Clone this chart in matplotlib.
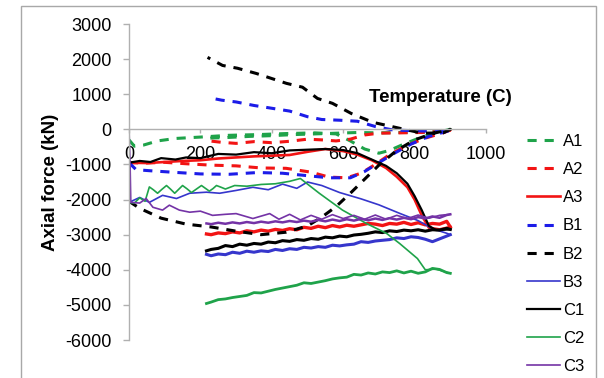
import matplotlib
matplotlib.use("Agg")
import matplotlib.pyplot as plt
from matplotlib.patches import Rectangle

plt.rcParams['font.family'] = ['Liberation Sans', 'DejaVu Sans']
plt.rcParams['axes.unicode_minus'] = False

# Axial force vs temperature: heating branch (0 -> 900 C) followed by cooling branch
A1_T = [0, 15, 40, 80, 130, 200, 280, 360, 440, 520, 580, 620, 660, 700, 730, 770, 820, 870, 900,
        870, 820, 760, 700, 640, 580, 520, 460, 400, 340, 280, 225]
A1_F = [-300, -480, -450, -330, -260, -220, -170, -150, -120, -100, -130, -330, -560, -680, -600, -420, -220, -70, 0,
        -40, -80, -90, -100, -90, -110, -130, -150, -180, -200, -230, -250]

A2_T = [0, 50, 100, 160, 230, 300, 370, 440, 510, 560, 610, 650, 690, 730, 780, 830, 880, 900,
        870, 820, 760, 700, 660, 620, 580, 540, 500, 450, 400, 350, 300, 260, 225]
A2_F = [-950, -960, -940, -980, -1020, -1040, -1100, -1110, -1220, -1360, -1380, -1250, -1000, -720, -450, -250, -100, -20,
        -60, -90, -100, -110, -160, -280, -330, -300, -280, -340, -380, -350, -400, -370, -330]

A3_T = [0, 50, 100, 150, 200, 250, 300, 350, 400, 450, 500, 550, 600, 640, 680, 720, 750, 780, 800, 820, 840, 870, 900,
        890, 870, 850, 830, 810, 790, 770, 750, 730, 710, 690, 670, 650, 630, 610, 590, 570, 550, 530, 510,
        490, 470, 450, 430, 410, 390, 370, 350, 330, 310, 290, 270, 250, 230, 217]
A3_F = [-950, -960, -930, -900, -880, -830, -800, -770, -750, -730, -640, -560, -620, -720, -880, -1100, -1350, -1650,
        -2000, -2450, -2800, -2850, -2780,
        -2620, -2700, -2680, -2720, -2660, -2710, -2650, -2700, -2680, -2740, -2700, -2680, -2720, -2760, -2730,
        -2780, -2740, -2800, -2760, -2820, -2790, -2860, -2830, -2880, -2850, -2900, -2870, -2920, -2890, -2950,
        -2920, -2970, -2950, -3000, -2980]

B1_T = [0, 20, 60, 120, 200, 280, 360, 430, 500, 560, 620, 660, 700, 740, 790, 840, 900,
        860, 800, 740, 690, 640, 590, 540, 500, 450, 400, 350, 300, 260, 225]
B1_F = [-950, -1150, -1180, -1220, -1270, -1280, -1230, -1250, -1320, -1380, -1380, -1200, -950, -700, -420, -200, -30,
        -60, -40, -20, 80, 230, 260, 280, 360, 520, 600, 680, 780, 830, 900]

B2_T = [0, 30, 90, 160, 230, 300, 370, 440, 500, 540, 580, 620, 660, 700, 750, 800, 850, 900,
        880, 822, 758, 683, 623, 570, 528, 486, 441, 399, 357, 304, 262, 220]
B2_F = [-2050, -2250, -2530, -2700, -2780, -2900, -3000, -2930, -2750, -2500, -2200, -1820, -1420, -1020, -600, -300, -120, 0,
        -100, -110, 30, 200, 450, 740, 880, 1200, 1310, 1450, 1590, 1740, 1820, 2050]

B3_T = [0, 30, 57, 94, 133, 170, 217, 254, 300, 347, 390, 430, 470, 500, 540, 590, 650, 700, 760, 810, 850, 890, 900,
        890, 870, 850, 830, 810, 790, 770, 750, 730, 710, 690, 670, 650, 630, 610, 590, 570, 550, 530, 510,
        490, 470, 450, 430, 410, 390, 370, 350, 330, 310, 290, 270, 250, 230, 217]
B3_F = [-2080, -1940, -2080, -1880, -1970, -1820, -1790, -1820, -1740, -1650, -1720, -1560, -1680, -1500, -1600, -1800,
        -1980, -2150, -2400, -2600, -2830, -2960, -3000,
        -3040, -3120, -3200, -3130, -3080, -3060, -3110, -3090, -3140, -3160, -3180, -3220, -3200, -3270, -3290,
        -3320, -3300, -3360, -3340, -3380, -3360, -3420, -3400, -3450, -3420, -3480, -3460, -3500, -3470, -3530,
        -3500, -3570, -3550, -3600, -3560]

C1_T = [0, 30, 60, 90, 130, 160, 200, 250, 300, 350, 400, 450, 500, 550, 600, 640, 680, 720, 750, 780, 800, 820, 840,
        860, 900,
        890, 870, 850, 830, 810, 790, 770, 750, 730, 710, 690, 670, 650, 630, 610, 590, 570, 550, 530, 510,
        490, 470, 450, 430, 410, 390, 370, 350, 330, 310, 290, 270, 250, 230, 217]
C1_F = [-950, -900, -930, -820, -860, -800, -820, -700, -720, -650, -680, -600, -580, -560, -590, -680, -860, -1040,
        -1250, -1550, -1900, -2300, -2750, -2870, -2850,
        -2820, -2870, -2860, -2900, -2860, -2890, -2870, -2910, -2890, -2940, -2920, -2960, -2990, -3010, -3060,
        -3040, -3090, -3070, -3130, -3110, -3160, -3140, -3190, -3170, -3230, -3210, -3270, -3250, -3300, -3270,
        -3340, -3310, -3390, -3420, -3460]

C2_T = [0, 15, 30, 45, 57, 68, 80, 92, 105, 116, 128, 139, 150, 162, 175, 189, 203, 214, 225, 235, 245, 258, 270,
        283, 296, 330, 370, 410, 450, 480, 533, 598, 665, 721, 758, 808, 830, 860, 900,
        890, 870, 850, 830, 810, 790, 770, 750, 730, 710, 690, 670, 650, 630, 610, 590, 570, 550, 530, 510,
        490, 470, 450, 430, 410, 390, 370, 350, 330, 310, 290, 270, 250, 230, 217]
C2_F = [-2080, -2100, -1950, -2050, -1640, -1720, -1820, -1710, -1600, -1700, -1820, -1710, -1600, -1690, -1800,
        -1700, -1600, -1680, -1760, -1690, -1600, -1650, -1700, -1650, -1600,
        -1620, -1570, -1550, -1480, -1400, -1820, -2300, -2680, -2960, -3250, -3680, -4000, -3980, -4100,
        -4080, -3990, -3960, -4060, -4100, -4040, -4090, -4030, -4080, -4060, -4120, -4090, -4150, -4130, -4210,
        -4230, -4260, -4310, -4350, -4390, -4370, -4440, -4480, -4520, -4560, -4610, -4660, -4650, -4730, -4760,
        -4790, -4830, -4850, -4920, -4960]

C3_T = [0, 3, 5, 30, 48, 67, 94, 113, 141, 170, 200, 234, 270, 300, 347, 394, 420, 450, 480, 510, 540, 570, 600,
        630, 660, 690, 720, 750, 780, 810, 840, 870, 900,
        890, 870, 850, 830, 810, 790, 770, 750, 730, 710, 690, 670, 650, 630, 610, 590, 570, 550, 530, 510,
        490, 470, 450, 430, 410, 390, 370, 350, 330, 310, 290, 270, 250, 230, 217]
C3_F = [0, -1000, -2080, -2100, -1970, -2220, -2300, -2160, -2300, -2360, -2330, -2450, -2420, -2400, -2540, -2400,
        -2560, -2420, -2580, -2450, -2560, -2430, -2540, -2450, -2560, -2440, -2560, -2450, -2540, -2440, -2530,
        -2450, -2420,
        -2440, -2520, -2480, -2540, -2500, -2560, -2520, -2570, -2530, -2580, -2540, -2590, -2550, -2600, -2560,
        -2610, -2570, -2620, -2580, -2630, -2600, -2640, -2610, -2650, -2620, -2660, -2630, -2670, -2640, -2680,
        -2650, -2690, -2660, -2700, -2680]

GREEN = '#1fa34a'
RED = '#f21414'
BLUE = '#1c1ce8'
BLUE_THIN = '#3636cc'
PURPLE = '#7433a6'
DASH = (0, (3, 2.6))

fig = plt.figure(figsize=(6.04, 3.78), dpi=100)
ax = fig.add_axes([0.2136, 0.1005, 0.591, 0.836])


def solid_series(T, F, color, lw, label, cool_lw):
    # heating part drawn thin, the noisy cooling record drawn a little heavier
    k = T.index(900)
    ax.plot(T[:k + 1], F[:k + 1], color=color, lw=lw, label=label)
    ax.plot(T[k:], F[k:], color=color, lw=cool_lw)


ax.plot(A1_T, A1_F, color=GREEN, lw=2.2, ls=DASH, label='A1')
ax.plot(A2_T, A2_F, color=RED, lw=2.2, ls=DASH, label='A2')
solid_series(A3_T, A3_F, RED, 1.9, 'A3', 2.4)
ax.plot(B1_T, B1_F, color=BLUE, lw=2.2, ls=DASH, label='B1')
ax.plot(B2_T, B2_F, color='black', lw=2.2, ls=DASH, label='B2')
solid_series(B3_T, B3_F, BLUE_THIN, 1.2, 'B3', 2.2)
solid_series(C1_T, C1_F, 'black', 1.6, 'C1', 2.2)
solid_series(C2_T, C2_F, GREEN, 1.2, 'C2', 2.0)
solid_series(C3_T, C3_F, PURPLE, 1.2, 'C3', 1.8)

ax.set_xlim(0, 1000)
ax.set_ylim(-6000, 3000)
ax.set_xticks(range(0, 1001, 200))
ax.set_yticks(range(-6000, 3001, 1000))

for side in ('top', 'right'):
    ax.spines[side].set_visible(False)
ax.spines['bottom'].set_position(('data', 0))
for side in ('left', 'bottom'):
    ax.spines[side].set_color('#b0b0b0')
    ax.spines[side].set_linewidth(1.0)

ax.tick_params(axis='y', direction='out', length=4.5, width=1, color='#b0b0b0', pad=8, labelsize=13)
ax.tick_params(axis='x', direction='out', length=3, width=1, color='#b0b0b0', pad=9, labelsize=13)

ax.set_xlabel('Temperature (C)', fontsize=13.5, fontweight='bold', va='center')
ax.xaxis.set_label_coords(0.871, 0.768)
ax.set_ylabel('Axial force (kN)', fontsize=13.5, fontweight='bold', va='center')
ax.yaxis.set_label_coords(-0.22, 0.5)

fig.legend(loc='upper left', bbox_to_anchor=(527 / 604, 1 - 134 / 378), frameon=False,
           fontsize=12, handlelength=2.0, handletextpad=0.15, labelspacing=0.79,
           borderpad=0, borderaxespad=0)

# thin grey frame around the whole chart
fig.patches.append(Rectangle((21 / 604, -0.05), (596 - 21) / 604, 1.05 - 6.5 / 378,
                             transform=fig.transFigure, fill=False, edgecolor='#a8a8a8', lw=1.0))

fig.savefig('out.png', dpi=100)
